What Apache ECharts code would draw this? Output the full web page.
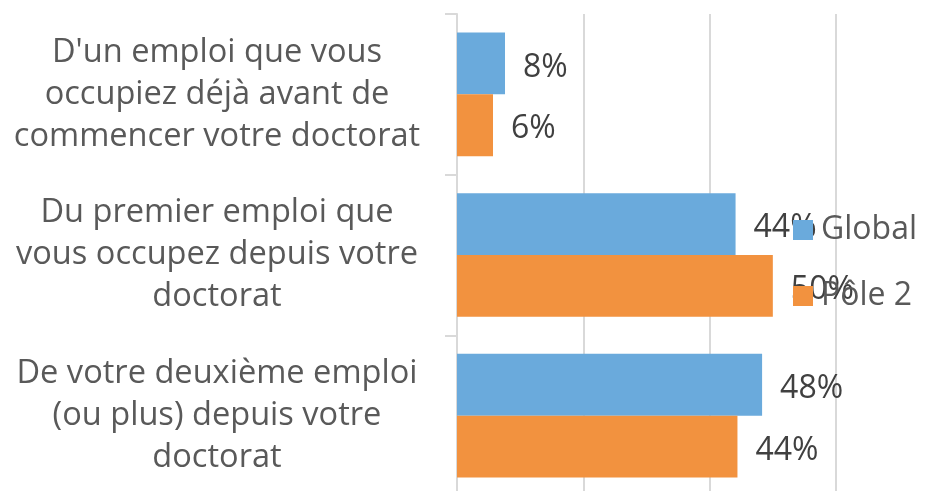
<!DOCTYPE html>
<html>
<head>
<meta charset="utf-8">
<script src="https://cdn.jsdelivr.net/npm/echarts@6/dist/echarts.min.js"></script>
<style>html,body{margin:0;padding:0;background:#fff;}#c{width:926px;height:491px;}</style>
</head>
<body>
<div id="c"></div>
<script>
var categories = [
  "D'un emploi que vous\noccupiez déjà avant de\ncommencer votre doctorat",
  "Du premier emploi que\nvous occupez depuis votre\ndoctorat",
  "De votre deuxième emploi\n(ou plus) depuis votre\ndoctorat"
];
var seriesNames = ["Global", "Pôle 2"];
var globalValues = [7.6, 44.1, 48.3];
var pole2Values = [5.7, 50.0, 44.4];
var xTicks = [0, 20, 40, 60];

var FONT = "Open Sans";
var chart = echarts.init(document.getElementById('c'));
function lbl() {
  return {
    show: true, position: 'right', distance: 18, offset: [0, 4],
    fontFamily: FONT, fontSize: 32, color: '#404040',
    formatter: function (p) { return Math.round(p.value) + '%'; }
  };
}
chart.setOption({
  animation: false,
  grid: { left: 457, top: 14, width: 379, height: 482, containLabel: false, outerBoundsMode: 'none' },
  legend: {
    orient: 'vertical', left: 793, top: 214, padding: 0, itemWidth: 20, itemHeight: 20, itemGap: 34,
    icon: 'rect', data: seriesNames,
    textStyle: { fontFamily: FONT, fontSize: 32, color: '#595959', padding: [0, 0, 0, 3] }
  },
  xAxis: {
    type: 'value', min: xTicks[0], max: xTicks[xTicks.length - 1], interval: 20,
    axisLabel: { show: false }, axisLine: { show: false }, axisTick: { show: false },
    splitLine: { show: true, lineStyle: { color: '#d9d9d9', width: 2 } }
  },
  yAxis: {
    type: 'category', data: categories, inverse: true,
    axisLine: { show: true, lineStyle: { color: '#d9d9d9', width: 2 } },
    axisTick: { show: true, length: 12, lineStyle: { color: '#d9d9d9', width: 2 } },
    axisLabel: { align: 'center', margin: 240, fontFamily: FONT, fontSize: 32.6, lineHeight: 42, color: '#595959', padding: [18, 0, 0, 0] }
  },
  series: [
    { name: seriesNames[0], type: 'bar', data: globalValues, barGap: '0%', barCategoryGap: '23%',
      itemStyle: { color: '#6aaadc' }, label: lbl() },
    { name: seriesNames[1], type: 'bar', data: pole2Values, barGap: '0%', barCategoryGap: '23%',
      itemStyle: { color: '#f2923f' }, label: lbl() }
  ]
});
</script>
</body>
</html>
